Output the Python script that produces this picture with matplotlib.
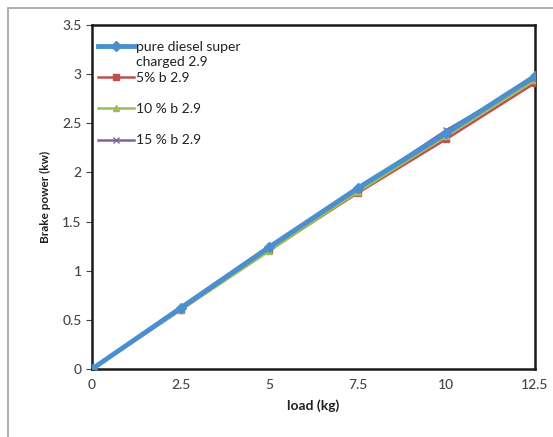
import matplotlib
matplotlib.use("Agg")
import matplotlib.pyplot as plt
from matplotlib.patches import Rectangle

load = [0, 2.5, 5, 7.5, 10, 12.5]
pure = [0, 0.62, 1.24, 1.84, 2.40, 2.98]
b5 = [0, 0.60, 1.21, 1.79, 2.34, 2.91]
b10 = [0, 0.60, 1.20, 1.80, 2.37, 2.94]
b15 = [0, 0.61, 1.23, 1.83, 2.43, 2.96]
labels = ["pure diesel super", "5% b 2.9", "10 % b 2.9", "15 % b 2.9"]
label_cont = "charged 2.9"
xticks = [0, 2.5, 5, 7.5, 10, 12.5]
xticklabels = ['0', '2.5', '5', '7.5', '10', '12.5']
yticks = [0, 0.5, 1, 1.5, 2, 2.5, 3, 3.5]
yticklabels = ['0', '0.5', '1', '1.5', '2', '2.5', '3', '3.5']

plt.rcParams['font.family'] = ['Lato', 'DejaVu Sans']

fig = plt.figure(figsize=(5.53, 4.37), dpi=100)
fig.patches.append(Rectangle((8/553, -0.1), 1.2, (437-8)/437 + 0.1, transform=fig.transFigure,
                             fill=False, edgecolor='#a0a0a0', linewidth=1.2))
ax = fig.add_axes([92/553, 1 - 369/437, (535-92)/553, (369-25)/437])

ax.plot(load, b5, color='#C0504D', linewidth=1.8, marker='s', markersize=4, label=labels[1], zorder=3)
ax.plot(load, b10, color='#9BBB59', linewidth=1.8, marker='^', markersize=4, label=labels[2], zorder=3)
ax.plot(load, b15, color='#8064A2', linewidth=1.8, marker='x', markersize=5, label=labels[3], zorder=3)
ax.plot(load, pure, color='#4A8FCF', linewidth=3.5, marker='D', markersize=5, label=labels[0], zorder=4)

ax.set_xlim(0, 12.5)
ax.set_ylim(0, 3.5)
ax.set_xticks(xticks)
ax.set_xticklabels(xticklabels)
ax.set_yticks(yticks)
ax.set_yticklabels(yticklabels)
ax.tick_params(axis='both', labelsize=10, colors='#454545', length=4, width=0.8)
ax.tick_params(axis='x', length=0, pad=7)
for t in ax.get_xticklabels() + ax.get_yticklabels():
    t.set_fontweight('medium')
for s in ax.spines.values():
    s.set_linewidth(1.8)
    s.set_color('#1a1a1a')
ax.set_xlabel('load (kg)', fontsize=10, fontweight='bold', color='#202020', labelpad=6)
ax.set_ylabel('Brake power (kw)', fontsize=8.5, fontweight='bold', color='#202020', labelpad=8)

handles, labs = ax.get_legend_handles_labels()
order = [3, 0, 1, 2]
leg = ax.legend([handles[i] for i in order], [labs[i] for i in order], loc='upper left',
                frameon=False, fontsize=10, handlelength=2.6, handletextpad=0.15,
                labelspacing=1.38, borderaxespad=0.0, bbox_to_anchor=(0.0, 0.97))
for t in leg.get_texts():
    t.set_color('#202020')

fig.canvas.draw()
bb = leg.get_texts()[0].get_window_extent()
fig.text(bb.x0 / fig.bbox.width, (bb.y0 - 3) / fig.bbox.height, label_cont,
         fontsize=10, color='#202020', va='top', ha='left')

fig.savefig('out.png', dpi=100)
